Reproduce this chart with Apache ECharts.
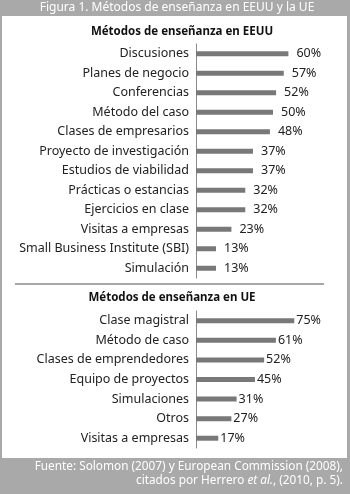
<!DOCTYPE html>
<html>
<head>
<meta charset="utf-8">
<script src="https://cdn.jsdelivr.net/npm/echarts@6/dist/echarts.min.js"></script>
<style>
  html, body { margin: 0; padding: 0; background: #a9a9a9; }
  #chart { width: 350px; height: 494px; }
</style>
</head>
<body>
<div id="chart"></div>
<script>
// datos EEUU
var usaCats = ['Discusiones', 'Planes de negocio', 'Conferencias', 'Método del caso',
  'Clases de empresarios', 'Proyecto de investigación', 'Estudios de viabilidad',
  'Prácticas o estancias', 'Ejercicios en clase', 'Visitas a empresas',
  'Small Business Institute (SBI)', 'Simulación'];
var usaVals = [60, 57, 52, 50, 48, 37, 37, 32, 32, 23, 13, 13];

// datos UE
var ueCats = ['Clase magistral', 'Método de caso', 'Clases de emprendedores',
  'Equipo de proyectos', 'Simulaciones', 'Otros', 'Visitas a empresas'];
var ueVals = [75, 61, 52, 45, 31, 27, 17];

var font = '"Noto Sans", sans-serif';
var barColor = '#787878';

var chart = echarts.init(document.getElementById('chart'));

function catAxis(idx, cats) {
  return {
    type: 'category', gridIndex: idx, data: cats, inverse: true,
    axisLine: { show: true, lineStyle: { color: '#8a8a8a', width: 1 } },
    axisTick: { show: false },
    axisLabel: { color: '#222', fontFamily: font, fontSize: 12.5, margin: 7 }
  };
}
function valAxis(idx) {
  return {
    type: 'value', gridIndex: idx, min: 0, max: 100,
    show: false, splitLine: { show: false }
  };
}
function barSeries(idx, vals, dist) {
  return {
    type: 'bar', xAxisIndex: idx, yAxisIndex: idx, data: vals,
    barWidth: 5, itemStyle: { color: barColor },
    label: {
      show: true, position: 'right', distance: dist,
      formatter: '{c}%', color: '#222', fontFamily: font, fontSize: 12.5
    },
    silent: true, animation: false
  };
}

var option = {
  animation: false,
  backgroundColor: '#a9a9a9',
  grid: [
    { left: 196, top: 44, width: 165, height: 234 },
    { left: 196, top: 311, width: 131, height: 137 }
  ],
  xAxis: [valAxis(0), valAxis(1)],
  yAxis: [catAxis(0, usaCats), catAxis(1, ueCats)],
  series: [barSeries(0, usaVals, 8), barSeries(1, ueVals, 2)],
  graphic: [
    { type: 'rect', z: -10, shape: { x: 2, y: 16, width: 345, height: 442 }, style: { fill: '#ffffff' } },
    { type: 'text', x: 177, y: 8, style: {
        text: 'Figura 1. Métodos de enseñanza en EEUU y la UE', fill: '#ffffff',
        font: '12px ' + font, textAlign: 'center', textVerticalAlign: 'middle' } },
    { type: 'text', x: 182, y: 32, style: {
        text: 'Métodos de enseñanza en EEUU', fill: '#111',
        font: 'bold 11.5px ' + font, textAlign: 'center', textVerticalAlign: 'middle' } },
    { type: 'line', shape: { x1: 15, y1: 284, x2: 324, y2: 284 }, style: { stroke: '#8a8a8a', lineWidth: 1.5 } },
    { type: 'text', x: 172, y: 298, style: {
        text: 'Métodos de enseñanza en UE', fill: '#111',
        font: 'bold 11.5px ' + font, textAlign: 'center', textVerticalAlign: 'middle' } },
    { type: 'text', x: 343, y: 467, style: {
        text: 'Fuente: Solomon (2007) y European Commission (2008),', fill: '#ffffff',
        font: '11.8px ' + font, textAlign: 'right', textVerticalAlign: 'middle' } },
    { type: 'text', x: 343, y: 481, style: {
        text: '{n|citados por Herrero }{i|et al.}{n|, (2010, p. 5).}',
        textAlign: 'right', textVerticalAlign: 'middle',
        rich: {
          n: { fill: '#ffffff', fontFamily: font, fontSize: 11.8 },
          i: { fill: '#ffffff', fontFamily: font, fontSize: 11.8, fontStyle: 'italic' }
        } } }
  ]
};

chart.setOption(option);
</script>
</body>
</html>
